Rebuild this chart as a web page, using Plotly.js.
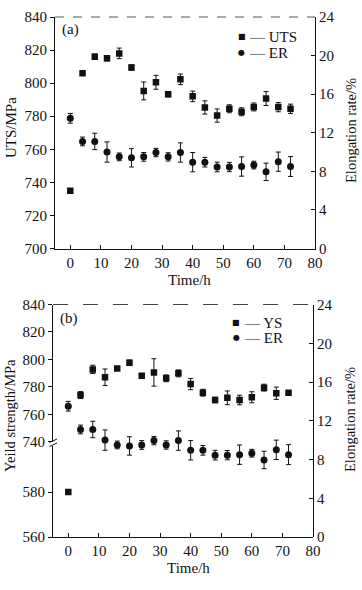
<!DOCTYPE html>
<html>
<head>
<meta charset="utf-8">
<script src="https://cdn.plot.ly/plotly-3.0.1.min.js"></script>
<style>
  html, body { margin: 0; padding: 0; background: #ffffff; }
  #chart { width: 362px; height: 590px; }
</style>
</head>
<body>
<div id="chart"></div>
<script>
// ---- data ----
const times = [0, 4, 8, 12, 16, 20, 24, 28, 32, 36, 40, 44, 48, 52, 56, 60, 64, 68, 72];
const utsValues = [735, 806, 816, 815, 818, 809.4, 795.3, 800.5, 793.3, 802.3, 792, 785.3, 780.4, 784.5, 782.7, 785.6, 790.7, 785.5, 784.5];
const utsErrors = [0.5, 1.2, 1.6, 1.6, 3.2, 1.6, 5.4, 4.2, 1.6, 3.2, 3.2, 4, 4, 2.4, 2.4, 2.4, 4.2, 2.8, 2.8];
const ysValues = [580, 774, 792.7, 787, 793.4, 797.5, 788, 790.5, 786.2, 789.8, 782, 775.7, 770.4, 772, 770.4, 772.4, 779.4, 775.3, 775.7];
const ysErrors = [0.5, 2.5, 3, 6, 1, 2, 1.5, 10, 2.5, 2.5, 4.1, 2.5, 2, 5, 3.5, 4, 2.5, 4.5, 1];
const erValues = [13.5, 11.1, 11.1, 10.0, 9.5, 9.4, 9.5, 9.95, 9.5, 9.95, 8.95, 8.95, 8.45, 8.45, 8.5, 8.65, 7.95, 9.0, 8.5];
const erErrors = [0.5, 0.45, 0.85, 1.05, 0.4, 0.95, 0.45, 0.43, 0.43, 1.0, 1.0, 0.5, 0.5, 0.48, 1.0, 0.4, 0.9, 1.0, 1.03];
const xTicks = [0, 10, 20, 30, 40, 50, 60, 70, 80];
const utsTicks = [700, 720, 740, 760, 780, 800, 820, 840];
const ysLowTicks = [560, 580];
const ysHighTicks = [740, 760, 780, 800, 820, 840];
const erTicks = [0, 4, 8, 12, 16, 20, 24];

// ---- layout helpers (pixel -> paper) ----
const W = 362, H = 590;
const px = v => v / W;
const py = v => 1 - v / H;

const INK = '#111111';
const FONT = 'Liberation Serif, Times New Roman, serif';

const errStyle = arr => ({ type: 'data', array: arr, visible: true, color: INK, thickness: 1, width: 2.5 });
const sq = { symbol: 'square', size: 6.5, color: INK };
const ci = { symbol: 'circle', size: 7, color: INK };

const traces = [
  // panel (a)
  { x: times, y: utsValues, error_y: errStyle(utsErrors), mode: 'markers', marker: sq, xaxis: 'x', yaxis: 'y', name: 'UTS', showlegend: false, cliponaxis: true },
  { x: times, y: erValues, error_y: errStyle(erErrors), mode: 'markers', marker: ci, xaxis: 'x', yaxis: 'y2', name: 'ER', showlegend: false, cliponaxis: true },
  // panel (b) – yield strength on broken axis (lower and upper segments)
  { x: times, y: ysValues, error_y: errStyle(ysErrors), mode: 'markers', marker: sq, xaxis: 'x2', yaxis: 'y3', name: 'YS', showlegend: false, cliponaxis: true },
  { x: times, y: ysValues, error_y: errStyle(ysErrors), mode: 'markers', marker: sq, xaxis: 'x2', yaxis: 'y4', name: 'YS', showlegend: false, cliponaxis: true },
  { x: times, y: erValues, error_y: errStyle(erErrors), mode: 'markers', marker: ci, xaxis: 'x2', yaxis: 'y5', name: 'ER', showlegend: false, cliponaxis: true }
];

const axisBase = {
  showgrid: false, zeroline: false, showline: true, linecolor: INK, linewidth: 1,
  tickcolor: INK, tickwidth: 1, ticklen: 4,
  tickfont: { family: FONT, size: 15, color: INK }, fixedrange: true
};

const aBottom = 248.5, aTop = 17;
const bBottom = 537, bTop = 304.5, bLowTop = 446, bHighBottom = 441.7;
const lowScale = 2.25; // px per MPa on lower segment

const layout = {
  width: W, height: H,
  margin: { l: 0, r: 0, t: 0, b: 0 },
  paper_bgcolor: '#ffffff', plot_bgcolor: 'rgba(0,0,0,0)',
  showlegend: false,
  xaxis: Object.assign({}, axisBase, { domain: [px(55), px(315)], anchor: 'y', range: [-5, 80], tickvals: xTicks, ticks: 'inside' }),
  yaxis: Object.assign({}, axisBase, { domain: [py(aBottom), py(aTop)], anchor: 'x', range: [700, 840], tickvals: utsTicks, ticks: 'outside' }),
  yaxis2: Object.assign({}, axisBase, { overlaying: 'y', side: 'right', anchor: 'x', range: [0, 24], tickvals: erTicks, ticks: 'inside' }),
  xaxis2: Object.assign({}, axisBase, { domain: [px(53), px(313)], anchor: 'y3', range: [-5, 80], tickvals: xTicks, ticks: 'inside' }),
  yaxis3: Object.assign({}, axisBase, { domain: [py(bBottom), py(bLowTop)], anchor: 'x2', range: [560, 560 + (bBottom - bLowTop) / lowScale], tickvals: ysLowTicks, ticks: 'outside' }),
  yaxis4: Object.assign({}, axisBase, { domain: [py(bHighBottom), py(bTop)], anchor: 'x2', range: [740, 840], tickvals: ysHighTicks, ticks: 'outside' }),
  yaxis5: Object.assign({}, axisBase, { domain: [py(bBottom), py(bTop)], anchor: 'x2', side: 'right', range: [0, 24], tickvals: erTicks, ticks: 'inside' }),
  shapes: [
    // top frame lines (faded/dashed in the scan)
    { type: 'line', xref: 'paper', yref: 'paper', x0: px(55), x1: px(315), y0: py(aTop), y1: py(aTop), line: { color: '#555', width: 1, dash: 'dash' } },
    { type: 'line', xref: 'paper', yref: 'paper', x0: px(53), x1: px(313), y0: py(bTop), y1: py(bTop), line: { color: '#444', width: 1, dash: 'longdash' } },
    // axis break marks
    { type: 'line', xref: 'paper', yref: 'paper', x0: px(49.5), x1: px(57), y0: py(442.5), y1: py(439), line: { color: INK, width: 1 } },
    { type: 'line', xref: 'paper', yref: 'paper', x0: px(49.5), x1: px(57), y0: py(446.5), y1: py(443), line: { color: INK, width: 1 } }
  ],
  annotations: []
};

function txt(text, x, y, opts) {
  return Object.assign({
    text: text, xref: 'paper', yref: 'paper', x: px(x), y: py(y),
    xanchor: 'center', yanchor: 'middle', showarrow: false,
    font: { family: FONT, size: 15, color: INK }
  }, opts || {});
}

layout.annotations.push(
  txt('(a)', 70, 29),
  txt('(b)', 69, 318),
  txt('UTS/MPa', 11, 128, { textangle: -90 }),
  txt('Elongation rate/%', 351, 131, { textangle: -90, font: { family: FONT, size: 14.5, color: INK } }),
  txt('Time/h', 189, 280),
  txt('Yeild strength/MPa', 10, 416, { textangle: -90, font: { family: FONT, size: 14.5, color: INK } }),
  txt('Elongation rate/%', 350, 420, { textangle: -90, font: { family: FONT, size: 14.5, color: INK } }),
  txt('Time/h', 188, 568),
  // legend (a)
  txt('■', 241.7, 36.5, { font: { family: 'DejaVu Sans', size: 8, color: INK } }),
  txt('— UTS', 247, 37, { xanchor: 'left' }),
  txt('●', 241.7, 52.5, { font: { family: 'DejaVu Sans', size: 8, color: INK } }),
  txt('— ER', 247, 53, { xanchor: 'left' }),
  // legend (b)
  txt('■', 236, 322.7, { font: { family: 'DejaVu Sans', size: 8, color: INK } }),
  txt('— YS', 242, 323, { xanchor: 'left' }),
  txt('●', 236, 337.3, { font: { family: 'DejaVu Sans', size: 8, color: INK } }),
  txt('— ER', 242, 338, { xanchor: 'left' })
);

Plotly.newPlot('chart', traces, layout, { displayModeBar: false, staticPlot: true });
</script>
</body>
</html>
